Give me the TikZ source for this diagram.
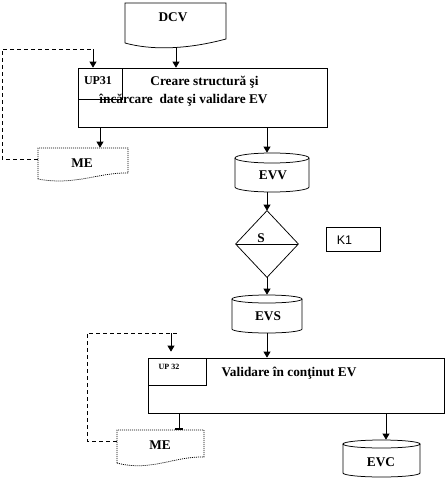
\documentclass[tikz,border=0pt]{standalone}
\usepackage{fontspec}
\setmainfont{Liberation Serif}
\newfontfamily\arialfont{Liberation Sans}
\usetikzlibrary{arrows.meta}
\begin{document}
\begin{tikzpicture}[x=1pt,y=-1pt,line width=0.75pt,
  txt/.style={font=\bfseries\fontsize{13.3}{15}\selectfont,inner sep=0pt},
  smalltxt/.style={font=\bfseries\fontsize{12}{14}\selectfont,inner sep=0pt},
  tinytxt/.style={font=\bfseries\fontsize{8}{9}\selectfont,inner sep=0pt},
  area/.style={rectangle,inner sep=0pt,draw=none},
  box/.style={rectangle,inner sep=0pt,draw},
  arr/.style={-{Triangle[width=7pt,length=6pt]}},
  dashloop/.style={dash pattern=on 4pt off 3pt},
  dotline/.style={dash pattern=on 1pt off 1pt}]
\useasboundingbox (0,0) rectangle (447,482);

% DCV document
\node[area,minimum width=101pt,minimum height=44pt] (dcv) at (175.5,25) {};
\draw (125,43) -- (125,3) -- (226,3) -- (226,39) .. controls (185,50) and (150,50) .. (125,43);
\node[txt] (dcvt) at (173,17) {DCV};

% UP31 process
\node[box,minimum width=249pt,minimum height=59pt] (up31) at (202.5,97.5) {};
\node[box,minimum width=44pt,minimum height=31pt] (up31id) at (100,83.5) {};
\node[smalltxt] (up31t) at (98,81) {UP31};
\node[txt] (t1) at (204.5,82) {Creare structură şi};
\node[txt] (t2) at (183.5,100) {încărcare\ \ date şi validare EV};

% ME 1 (dotted document)
\node[area,minimum width=90pt,minimum height=32pt] (me1) at (83,164) {};
\draw[dotline] (38,179) -- (38,148) -- (128,148) -- (128,173) .. controls (100,172) and (75,186) .. (38,179);
\node[txt] (me1t) at (82,163) {ME};

% EVV cylinder
\node[area,minimum width=74pt,minimum height=39pt] (evv) at (272,172.5) {};
\draw (272,158) ellipse [x radius=37pt,y radius=5pt];
\draw (235,158) -- (235,187) arc[start angle=180,end angle=360,x radius=37pt,y radius=5pt] -- (309,158);
\node[txt] (evvt) at (273,175) {EVV};

% Decision S
\node[area,minimum width=62pt,minimum height=66pt] (s) at (267,244) {};
\draw (s.north) -- (s.east) -- (s.south) -- (s.west) -- cycle;
\draw (s.west) -- (s.east);
\node[txt] (st) at (261,238) {S};

% K1
\node[box,minimum width=54pt,minimum height=24pt] (k1) at (353,239) {};
\node[font=\arialfont\fontsize{12.5}{14}\selectfont,inner sep=0pt] (k1t) at (344.5,240) {K1};

% EVS cylinder
\node[area,minimum width=70pt,minimum height=38pt] (evs) at (267,314) {};
\draw (267,299) ellipse [x radius=35pt,y radius=4pt];
\draw (232,299) -- (232,329) arc[start angle=180,end angle=360,x radius=35pt,y radius=4pt] -- (302,299);
\node[txt] (evst) at (268,316) {EVS};

% UP32 process
\node[box,minimum width=296pt,minimum height=55pt] (up32) at (296,385.5) {};
\node[box,minimum width=58pt,minimum height=27pt] (up32id) at (177,371.5) {};
\node[tinytxt] (up32t) at (169,367) {UP 32};
\node[txt] (t3) at (289,373) {Validare în conţinut EV};

% ME 2 (dotted document)
\node[area,minimum width=87pt,minimum height=36pt] (me2) at (160.5,448) {};
\draw[dotline] (117,463) -- (117,430) -- (204,430) -- (204,457) .. controls (175,456) and (150,472) .. (117,463);
\node[txt] (me2t) at (160,445) {ME};

% EVC cylinder
\node[area,minimum width=77pt,minimum height=37pt] (evc) at (381.5,458.5) {};
\draw (381.5,444) ellipse [x radius=38.5pt,y radius=4pt];
\draw (343,444) -- (343,473) arc[start angle=180,end angle=360,x radius=38.5pt,y radius=4pt] -- (420,444);
\node[txt] (evct) at (381,462) {EVC};

% connectors
\draw[arr] (176,0 |- dcv.south) -- (176,0 |- up31.north);
\draw[arr] (100,0 |- up31.south) -- (100,0 |- me1.north);
\draw[arr] (s.north |- up31.south) -- (s.north |- evv.north);
\draw[arr] (s.north |- evv.south) -- (s.north);
\draw[arr] (s.south) -- (s.south |- evs.north);
\draw[arr] (s.south |- evs.south) -- (s.south |- up32.north);
\draw[arr] (386,0 |- up32.south) -- (386,0 |- evc.north);
\draw[-{Bar[width=8pt,line width=1.5pt]}] (179,0 |- up32.south) -- (179,0 |- me2.north);

% feedback loops
\coordinate (l1) at (2,49);
\draw[dashloop] ([yshift=5pt]me1.west) -| (l1) -- (93,49);
\draw[arr] (93,49) -- (93,0 |- up31.north);
\coordinate (l2) at (87,333);
\coordinate (d2) at (171,333);
\draw[dashloop] ([yshift=7pt]me2.west) -| (l2) -- (179,333);
\draw[arr,shorten >=6pt] (d2) -- (d2 |- up32.north);
\end{tikzpicture}
\end{document}
